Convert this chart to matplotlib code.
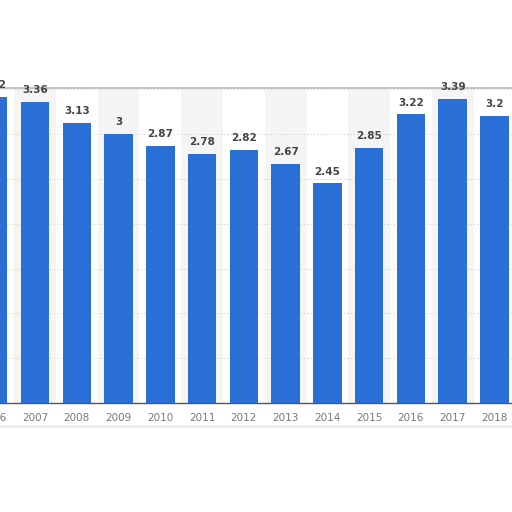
import matplotlib
matplotlib.use("Agg")
import matplotlib.pyplot as plt
import matplotlib.transforms as mtransforms

years = [2006, 2007, 2008, 2009, 2010, 2011, 2012, 2013, 2014, 2015, 2016, 2017, 2018]
values = [3.42, 3.36, 3.13, 3.0, 2.87, 2.78, 2.82, 2.67, 2.45, 2.85, 3.22, 3.39, 3.2]
labels = ["3.42", "3.36", "3.13", "3", "2.87", "2.78", "2.82", "2.67", "2.45", "2.85", "3.22", "3.39", "3.2"]
tick_labels = [str(y) for y in years]

BLUE = "#2a6fd6"

fig = plt.figure(figsize=(5.12, 5.12), dpi=100)
fig.patch.set_facecolor("white")
ax = fig.add_axes([0.0, (512 - 403) / 512, 1.0, 315 / 512])
ax.set_facecolor("white")

x = list(range(len(years)))
# alternating column shading (odd years)
for i, y in enumerate(years):
    if y % 2 == 1:
        ax.axvspan(i - 0.5, i + 0.5, color="#f5f5f5", zorder=0, lw=0)

bars = ax.bar(x, values, width=0.68, color=BLUE, zorder=3)
for i, (v, lab) in enumerate(zip(values, labels)):
    ax.annotate(lab, (i, v), xytext=(0, 5), textcoords="offset points",
                ha="center", va="bottom", fontsize=7.5, fontweight="bold",
                color="#444444", zorder=4, annotation_clip=False)

ax.set_yticks([0.5, 1.0, 1.5, 2.0, 2.5, 3.0, 3.5])
ax.yaxis.grid(True, linestyle=(0, (1, 2)), color="#cfcfcf", lw=0.8, zorder=1)
ax.tick_params(axis="y", left=False, labelleft=False)
ax.set_xticks([])

# x labels as text so partially visible ones are still drawn
trans = mtransforms.blended_transform_factory(ax.transData, ax.transAxes)
for i, t in enumerate(tick_labels):
    ax.text(i, -0.047, t, transform=trans, ha="center", va="center",
            fontsize=7.5, color="#777777", clip_on=False)

# pixel mapping: year 2007 at px 35, spacing 41.77 px
sp = 41.77
ax.set_xlim(1 - 35 / sp, 1 + (512 - 35) / sp)
ax.set_ylim(0, 315 / 89.6)

for s in ["left", "right"]:
    ax.spines[s].set_visible(False)
ax.spines["top"].set_color("#bbbbbb")
ax.spines["top"].set_linewidth(1.2)
ax.spines["bottom"].set_color("#555555")
ax.spines["bottom"].set_linewidth(1.0)

# soft torn-edge shadow below the labels
for k, a in enumerate([0.10, 0.07, 0.04]):
    fig.add_artist(plt.Line2D([0.0, 1.0], [(512 - 426 - k) / 512] * 2,
                              transform=fig.transFigure, color="#888888",
                              alpha=a, lw=1.5))

fig.savefig("out.png", dpi=100, facecolor="white")
